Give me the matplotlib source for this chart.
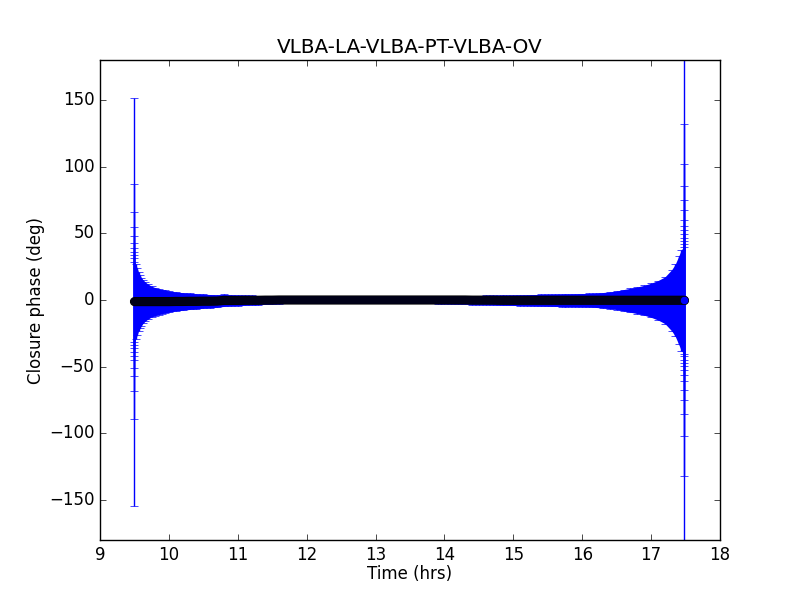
import matplotlib
matplotlib.use("Agg")
import matplotlib.pyplot as plt
import numpy as np

plt.style.use("classic")

# time (hrs), closure phase (deg) and 1-sigma error (deg)
t_hrs = [
    9.50, 9.50, 9.50, 9.50, 9.50, 9.50, 9.50, 9.50, 9.50, 9.50, 9.50,
    9.52, 9.54, 9.56, 9.58, 9.60, 9.63, 9.66, 9.70, 9.75, 9.80, 9.85,
    9.90, 9.95, 10.0, 10.1, 10.2, 10.3, 10.4, 10.5, 10.6, 10.7, 10.8,
    10.9, 11.0, 11.1, 11.2, 11.3, 11.4, 11.5, 11.6, 11.7, 11.8, 11.9,
    12.0, 12.1, 12.2, 12.3, 12.4, 12.5, 12.6, 12.7, 12.8, 12.9, 13.0,
    13.1, 13.2, 13.3, 13.4, 13.5, 13.6, 13.7, 13.8, 13.9, 14.0, 14.1,
    14.2, 14.3, 14.4, 14.5, 14.6, 14.7, 14.8, 14.9, 15.0, 15.1, 15.2,
    15.3, 15.4, 15.5, 15.6, 15.7, 15.8, 15.9, 16.0, 16.1, 16.2, 16.3,
    16.4, 16.5, 16.6, 16.7, 16.8, 16.9, 17.0, 17.1, 17.2, 17.3, 17.35,
    17.40, 17.44,
    17.48, 17.48, 17.48, 17.48, 17.48, 17.48, 17.48, 17.48, 17.48,
    17.48, 17.48, 17.48, 17.48, 17.48,
]
phase_deg = [
    -1.2, -1.2, -1.2, -1.2, -1.2, -1.2, -1.2, -1.2, -1.2, -1.2, -1.2,
    -1.2, -1.2, -1.2, -1.2, -1.2, -1.2, -1.2, -1.2, -1.2, -1.2, -1.2,
    -1.2, -1.2, -1.2, -1.1, -1.1, -1.0, -1.0, -0.9, -0.9, -0.8, -0.3,
    -0.3, -0.3, -0.2, -0.2, -0.2, -0.1, -0.1, 0.0, 0.0, 0.0, 0.0,
    0.0, 0.0, 0.0, 0.0, 0.0, 0.0, 0.0, 0.0, 0.0, 0.0, 0.0,
    0.0, 0.0, 0.0, 0.0, 0.0, 0.0, 0.0, 0.0, 0.0, 0.0, 0.0,
    0.0, 0.0, -0.1, -0.1, -0.1, -0.1, -0.2, -0.2, -0.2, -0.2, -0.2,
    -0.2, -0.2, -0.2, -0.2, -0.2, -0.2, -0.2, -0.2, -0.2, -0.2, -0.2,
    -0.2, -0.2, -0.2, -0.2, -0.2, -0.2, -0.2, -0.2, -0.2, -0.2, -0.2,
    -0.2, -0.2,
    -0.2, -0.2, -0.2, -0.2, -0.2, -0.2, -0.2, -0.2, -0.2,
    -0.2, -0.2, -0.2, -0.2, -0.2,
]
err_deg = [
    153.0, 88.0, 67.0, 56.0, 49.5, 44.0, 40.5, 37.5, 35.0, 32.5, 30.0,
    28.0, 25.0, 22.0, 20.0, 18.0, 16.0, 14.5, 13.0, 11.5, 10.5, 9.8,
    9.0, 8.5, 8.0, 7.2, 6.6, 6.1, 5.7, 5.3, 5.0, 4.7, 4.5,
    4.2, 4.0, 3.8, 3.6, 3.4, 3.2, 3.0, 2.8, 2.6, 2.4, 2.2,
    2.0, 1.9, 1.8, 1.7, 1.6, 1.5, 1.5, 1.5, 1.5, 1.6, 1.6,
    1.7, 1.8, 1.9, 2.0, 2.1, 2.2, 2.4, 2.5, 2.7, 2.8, 3.0,
    3.1, 3.2, 3.3, 3.4, 3.5, 3.6, 3.7, 3.8, 3.9, 4.0, 4.1,
    4.3, 4.4, 4.5, 4.6, 4.7, 4.8, 4.9, 5.0, 5.1, 5.4, 5.8,
    6.3, 7.0, 8.0, 9.0, 10.0, 11.2, 12.8, 14.8, 17.5, 23.0, 27.0,
    33.0, 38.0,
    40.0, 42.0, 44.5, 47.0, 49.5, 52.5, 56.0, 60.5, 67.5, 75.0,
    85.5, 102.0, 132.0, 229.0,
]

t = np.array(t_hrs)
ph = np.array(phase_deg)
er = np.array(err_deg)

fig = plt.figure(figsize=(8, 6), dpi=100)
ax = fig.add_subplot(111)

# solid envelope where the bars are so dense they merge
ax.fill_between(t, ph - er, ph + er, where=er < 41, color="b", lw=0)
ax.errorbar(t, ph, yerr=er, fmt="none", ecolor="b", capsize=3, elinewidth=1)

# the markers overlap into one dark band: black edges over blue faces
ax.plot(t, ph, "-", color="k", lw=6.6, solid_capstyle="round")
ax.plot(t, ph, "-", color="#000018", lw=5.6, solid_capstyle="round")
ax.plot(t[-1], ph[-1], "o", mfc="b", mec="k", ms=6, mew=0.5)

ax.set_xlim(9, 18)
ax.set_ylim(-180, 180)
ax.set_yticks([-150, -100, -50, 0, 50, 100, 150])
ax.set_title("VLBA-LA-VLBA-PT-VLBA-OV")
ax.set_xlabel("Time (hrs)", labelpad=1)
ax.set_ylabel("Closure phase (deg)", labelpad=3)

fig.savefig("out.png", dpi=100)
